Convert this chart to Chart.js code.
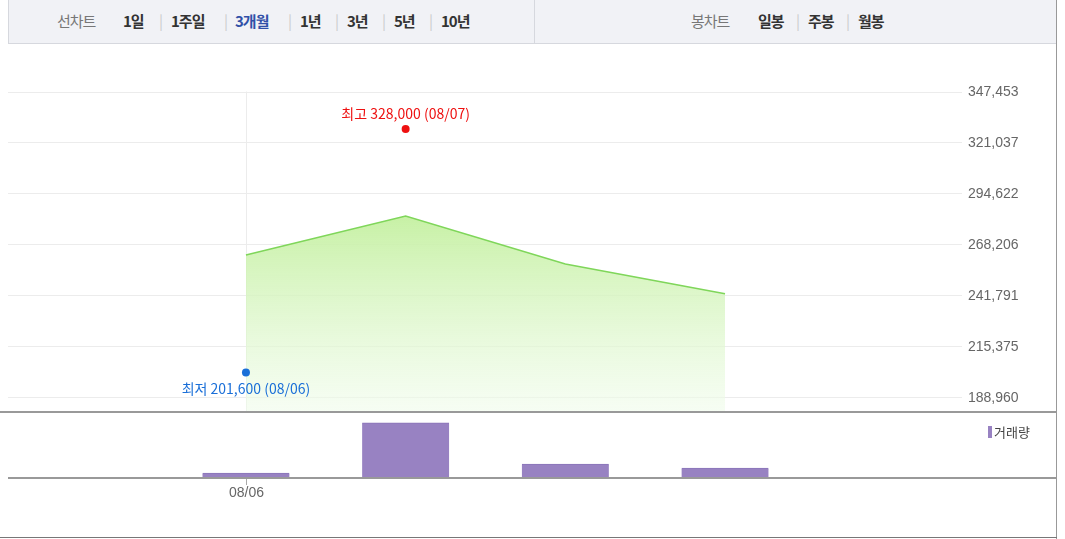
<!DOCTYPE html>
<html><head><meta charset="utf-8">
<script src="https://cdn.jsdelivr.net/npm/chart.js@4"></script>
<style>
body{margin:0;background:#fff;font-family:"Noto Sans CJK KR","Noto Sans",sans-serif;}
#wrap{position:relative;width:1065px;height:539px;overflow:hidden;}
canvas{position:absolute;left:0;top:0;}
#hdr{position:absolute;left:8px;top:0;width:1047px;height:43px;background:#f1f2f6;border:1px solid #d6d8de;border-top:none;font-size:15px;color:#333;}
#hdr span{position:absolute;top:10px;font-weight:bold;letter-spacing:-1px}
#hdr .g{color:#777;font-weight:normal}
#hdr .s{color:#ccc;font-weight:normal}
#rline{position:absolute;left:1056px;top:0;width:1px;height:539px;background:#999}
#bline{position:absolute;left:0;top:537px;width:1057px;height:1px;background:#777}
</style></head><body>
<div id="wrap">
<div id="hdr">
<span class="g" style="left:48px">선차트</span>
<span style="left:114px">1일</span><span class="s" style="left:150px">|</span>
<span style="left:162px">1주일</span><span class="s" style="left:215px">|</span>
<span style="left:226px;color:#3050a8">3개월</span><span class="s" style="left:279px">|</span>
<span style="left:291px">1년</span><span class="s" style="left:326px">|</span>
<span style="left:338px">3년</span><span class="s" style="left:373px">|</span>
<span style="left:385px">5년</span><span class="s" style="left:420px">|</span>
<span style="left:432px">10년</span>
<div style="position:absolute;left:525px;top:0;width:1px;height:43px;background:#d6d8de"></div>
<span class="g" style="left:682px">봉차트</span>
<span style="left:749px">일봉</span><span class="s" style="left:787px">|</span>
<span style="left:799px">주봉</span><span class="s" style="left:837px">|</span>
<span style="left:849px">월봉</span>
</div>
<canvas id="c1" width="1065" height="539"></canvas>
<canvas id="c2" width="1065" height="539"></canvas>
<div id="rline"></div><div id="bline"></div>
</div>
<script>
const dates=["08/06","08/07","08/08","08/09"];
const closes=[262600,282800,257900,242500];
const volumes=[1300,17500,4200,2900];
const yTicks=[188960,215375,241791,268206,294622,321037,347453];
const xLabels=["08/06"];
const highVal=328000, highIdx=1, lowVal=201600, lowIdx=0;
const fmt=v=>v.toLocaleString('en-US');
const XMIN=-1.49, XMAX=4.44;

const priceData=closes.map((v,i)=>({x:i,y:v}));
const volData=volumes.map((v,i)=>({x:i,y:v}));

const pricePlugin={id:'pp',
beforeDatasetsDraw(ch){const {ctx,scales:{x,y},chartArea:a}=ch;ctx.save();
 ctx.strokeStyle='#ececec';ctx.lineWidth=1;
 yTicks.forEach(t=>{const p=Math.round(y.getPixelForValue(t))+.5;ctx.beginPath();ctx.moveTo(8,p);ctx.lineTo(962,p);ctx.stroke();});
 const vx=Math.round(x.getPixelForValue(0))+.5;ctx.beginPath();ctx.moveTo(vx,y.getPixelForValue(yTicks[yTicks.length-1]));ctx.lineTo(vx,a.bottom);ctx.stroke();
 ctx.restore();},
afterDatasetsDraw(ch){const {ctx,scales:{x,y},chartArea:a}=ch;ctx.save();
 ctx.font='14px "Liberation Sans","DejaVu Sans",sans-serif';ctx.fillStyle='#666';ctx.textBaseline='middle';ctx.textAlign='left';
 yTicks.forEach(t=>ctx.fillText(fmt(t),968,y.getPixelForValue(t)+1));
 ctx.font='14px "Noto Sans CJK KR",sans-serif';ctx.textAlign='center';
 let hx=x.getPixelForValue(highIdx),hy=y.getPixelForValue(highVal);
 ctx.fillStyle='#ee1111';ctx.beginPath();ctx.arc(hx,hy,4,0,7);ctx.fill();
 ctx.fillText('최고 '+fmt(highVal)+' ('+dates[highIdx]+')',hx,hy-15);
 let lx=x.getPixelForValue(lowIdx),ly=y.getPixelForValue(lowVal);
 ctx.fillStyle='#1a6fd8';ctx.beginPath();ctx.arc(lx,ly,4,0,7);ctx.fill();
 ctx.fillText('최저 '+fmt(lowVal)+' ('+dates[lowIdx]+')',lx,ly+16);
 ctx.fillStyle='#999';ctx.fillRect(0,a.bottom,1057,2);
 ctx.restore();}};

new Chart(document.getElementById('c1'),{type:'line',
data:{datasets:[{data:priceData,borderColor:'#7fd65a',borderWidth:1.5,pointRadius:0,tension:0,fill:'start',
 backgroundColor:(c)=>{const a=c.chart.chartArea;if(!a)return 'rgba(200,240,170,.6)';const g=c.chart.ctx.createLinearGradient(0,a.top+170,0,a.bottom);g.addColorStop(0,'rgba(196,240,160,0.95)');g.addColorStop(1,'rgba(240,252,235,0.6)');return g;}}]},
options:{responsive:false,animation:false,layout:{padding:{left:8,right:110,top:45,bottom:128}},
 plugins:{legend:{display:false},tooltip:{enabled:false}},
 scales:{x:{type:'linear',min:XMIN,max:XMAX,display:false},y:{min:181600,max:371600,display:false}}},
plugins:[pricePlugin]});

const volPlugin={id:'vp',
afterDatasetsDraw(ch){const {ctx,scales:{x},chartArea:a}=ch;ctx.save();
 ctx.fillStyle='#999';ctx.fillRect(8,a.bottom,1049,2);
 ctx.strokeStyle='#aaa';ctx.lineWidth=1;
 ctx.font='14px "Liberation Sans","DejaVu Sans",sans-serif';ctx.fillStyle='#666';ctx.textAlign='center';ctx.textBaseline='top';
 xLabels.forEach(l=>{const i=dates.indexOf(l);const p=Math.round(x.getPixelForValue(i))+.5;ctx.beginPath();ctx.moveTo(p,a.bottom+2);ctx.lineTo(p,a.bottom+8);ctx.stroke();ctx.fillText(l,p,a.bottom+9);});
 ctx.fillStyle='#9882c2';ctx.fillRect(988,426,4,12);
 ctx.fillStyle='#444';ctx.font='13px "Noto Sans CJK KR",sans-serif';ctx.textAlign='left';ctx.textBaseline='middle';ctx.fillText('거래량',994,432);
 ctx.restore();}};

new Chart(document.getElementById('c2'),{type:'bar',
data:{datasets:[{data:volData,backgroundColor:'#9882c2',borderColor:'#8a74b8',borderWidth:{top:1,left:0,right:0,bottom:0},barThickness:87}]},
options:{responsive:false,animation:false,layout:{padding:{left:8,right:110,top:413,bottom:62}},
 plugins:{legend:{display:false},tooltip:{enabled:false}},
 scales:{x:{type:'linear',offset:false,min:XMIN,max:XMAX,display:false},y:{min:0,max:20700,display:false}}},
plugins:[volPlugin]});
</script></body></html>
